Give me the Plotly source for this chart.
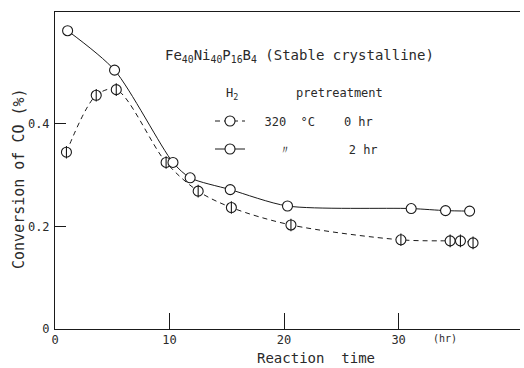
import plotly.graph_objects as go

# 0 hr pretreatment (dashed)
t0 = [1.0, 3.6, 5.35, 9.7, 12.5, 15.4, 20.6, 30.2, 34.5, 35.4, 36.5]
c0 = [0.345, 0.456, 0.467, 0.325, 0.269, 0.237, 0.203, 0.174, 0.172, 0.172, 0.168]
# 2 hr pretreatment (solid)
t2 = [1.1, 5.2, 10.3, 11.8, 15.3, 20.3, 31.1, 34.1, 36.2]
c2 = [0.582, 0.505, 0.325, 0.295, 0.272, 0.240, 0.235, 0.231, 0.230]

xticks = [0, 10, 20, 30]
yticks = [0, 0.2, 0.4]
yticklabels = ["0", "0.2", "0.4"]

FONT = "DejaVu Sans Mono"
INK = "#1a1a1a"
TXT = "#2a2a2a"
nb = "\u00a0"

fig = go.Figure()

fig.add_trace(go.Scatter(
    x=t0, y=c0, mode="lines+markers", line=dict(color=INK, width=1, dash="5px,4px",
                                                shape="spline", smoothing=0.9),
    marker=dict(symbol="circle", size=10, color="white", line=dict(color=INK, width=1.1)),
    name=nb * 2 + "320" + nb * 2 + "°C" + nb * 4 + "0 hr", legend="legend",
))
fig.add_trace(go.Scatter(
    x=t0, y=c0, mode="markers",
    marker=dict(symbol="line-ns-open", size=9, color=INK, line=dict(color=INK, width=1.1)),
    showlegend=False, hoverinfo="skip",
))
fig.add_trace(go.Scatter(
    x=t2, y=c2, mode="lines+markers", line=dict(color=INK, width=1, shape="spline", smoothing=0.75),
    marker=dict(symbol="circle", size=10, color="white", line=dict(color=INK, width=1.1)),
    name=nb * 4 + "〃" + nb * 8 + "2 hr", legend="legend2",
))

fig.update_layout(
    width=524, height=368,
    margin=dict(l=55, r=4, t=12, b=39),
    paper_bgcolor="white", plot_bgcolor="white",
    font=dict(family=FONT, size=12, color=TXT),
    legend=dict(x=(210 - 55) / 465, y=(329 - 121) / 317, xanchor="left", yanchor="middle",
                bgcolor="rgba(0,0,0,0)", font=dict(size=12), itemwidth=30),
    legend2=dict(x=(210 - 55) / 465, y=(329 - 149) / 317, xanchor="left", yanchor="middle",
                 bgcolor="rgba(0,0,0,0)", font=dict(size=12), itemwidth=30),
    xaxis=dict(range=[0, 40.6], tickvals=xticks, ticks="inside", ticklen=16,
               tickcolor=INK, showline=True, linecolor=INK, linewidth=1, mirror=True,
               showgrid=False, zeroline=False, tickfont=dict(size=12)),
    yaxis=dict(range=[0, 0.6185], tickvals=yticks, ticktext=yticklabels, ticks="inside",
               ticklen=11, tickcolor=INK, showline=True, linecolor=INK, linewidth=1,
               showgrid=False, zeroline=False, ticklabelstandoff=2, tickfont=dict(size=12)),
    annotations=[
        dict(text="Fe<sub>40</sub>Ni<sub>40</sub>P<sub>16</sub>B<sub>4</sub> (Stable crystalline)",
             xref="paper", yref="paper", x=(163 - 55) / 465, y=(329 - 56) / 317,
             xanchor="left", yanchor="middle", showarrow=False, font=dict(size=14)),
        dict(text="H<sub>2</sub>" + nb * 8 + "pretreatment",
             xref="paper", yref="paper", x=(224 - 55) / 465, y=(329 - 94) / 317,
             xanchor="left", yanchor="middle", showarrow=False, font=dict(size=12)),
        dict(text="(hr)", xref="x", yref="paper", x=32.8, y=0, xanchor="left", yanchor="top",
             yshift=-2, showarrow=False, font=dict(size=10)),
        dict(text="Reaction" + nb * 2 + "time", xref="paper", yref="paper",
             x=(316 - 55) / 465, y=(329 - 358) / 317, xanchor="center", yanchor="middle",
             showarrow=False, font=dict(size=14)),
        dict(text="Conversion" + nb + "of" + nb + "CO" + nb + "(%)", xref="paper", yref="paper",
             x=(19 - 55) / 465, y=(329 - 179) / 317, xanchor="center", yanchor="middle",
             textangle=-90, showarrow=False, font=dict(size=15)),
    ],
)

fig.write_html("out.html")
